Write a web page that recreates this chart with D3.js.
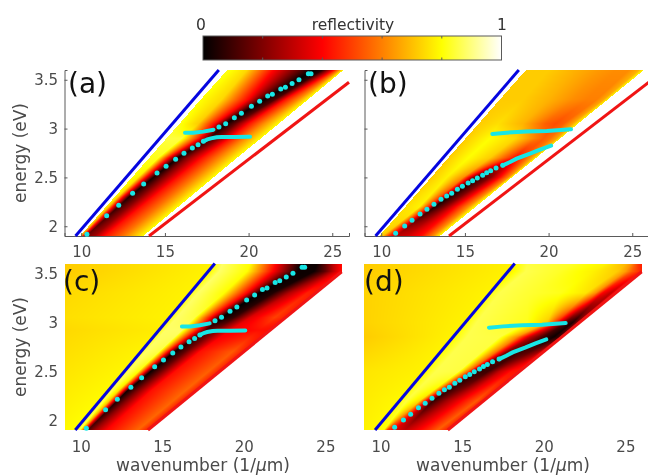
<!DOCTYPE html>
<html>
<head>
<meta charset="utf-8">
<script src="https://cdn.jsdelivr.net/npm/d3@7"></script>
<style>
html, body { margin: 0; padding: 0; background: #fff; overflow: hidden; }
#wrap { position: relative; width: 648px; height: 475px; overflow: hidden; filter: blur(0.4px); }
canvas, svg { position: absolute; left: 0; top: 0; }
text { font-family: "DejaVu Sans", sans-serif; }
</style>
</head>
<body>
<div id="wrap">
<canvas id="heat" width="648" height="475"></canvas>
<svg id="chart" width="648" height="475"></svg>
</div>
<script>
// tick labels
const xTicks = [10, 15, 20, 25]
const yTicks = [2, 2.5, 3, 3.5]
const barTicks = [0.2, 0.4, 0.6, 0.8]

// measured dispersion, left column (a, c)
const dotsLeft = [[10.34,1.917],[11.52,2.108],[12.24,2.214],[13.07,2.337],[13.73,2.433],[14.53,2.545],[15.07,2.614],[15.64,2.685],[16.14,2.747],[16.64,2.801],[16.98,2.835],[17.30,2.870],[18.23,3.016],[18.63,3.05],[19.15,3.112],[19.57,3.156],[20.17,3.228],[20.66,3.279],[21.14,3.334],[21.42,3.351],[21.92,3.405],[22.2,3.423],[22.6,3.463],[23.01,3.501],[23.57,3.562],[23.73,3.562]]
const lowerLeft = [[17.3,2.87],[17.54,2.89],[17.75,2.9],[18.09,2.911],[18.39,2.914],[19.19,2.914],[20.09,2.917]]
const upperLeft = [[16.2,2.958],[16.7,2.958],[17.3,2.969],[17.9,2.989]]

// measured dispersion, right column (b, d)
const dotsRight = [[10.86,1.928],[11.4,2.003],[11.84,2.061],[12.32,2.126],[12.73,2.174],[13.15,2.225],[13.57,2.276],[13.91,2.31],[14.21,2.337],[14.55,2.378],[14.85,2.409],[15.19,2.443],[15.46,2.467],[15.74,2.494],[16.06,2.522],[16.3,2.549],[16.54,2.569],[16.86,2.597],[17.26,2.624]]
const lowerRight = [[17.26,2.624],[17.7,2.658],[18.09,2.692],[18.49,2.719],[18.89,2.743],[19.49,2.784],[20.15,2.825]]
const upperRight = [[16.64,2.945],[17.5,2.958],[18.69,2.969],[19.89,2.975],[21.34,2.992]]

// light lines
const blueLine = [[9.66,1.9],[18.22,3.6]]
const redTop = [[14.05,1.9],[26,3.475]]
const redBottom = [[14.12,1.9],[26,3.516]]

// reflectivity: one row of wavenumbers + one row of values per energy
const energyA = [1.9,2.3,2.7,2.9,3.05,3.3,3.6]
const kA = [
  [9.93,10.02,10.12,10.3,10.8,11.4,12.5,13.7],
  [12.0,12.2,12.5,12.85,13.5,14.3,15.3,16.5],
  [14.06,14.6,15.2,15.76,16.3,17.2,18.2,19.3],
  [15.09,16.0,16.9,17.7,18.3,18.9,19.8,20.74],
  [15.87,17.0,18.0,18.63,19.2,20.0,20.9,21.8],
  [17.15,18.4,20.0,20.95,21.6,22.2,23.0,23.56],
  [18.73,19.9,21.5,23.9,24.4,25.0,25.4,25.66]]
const vA = [
  [.75,.6,.4,.18,.25,.42,.58,.8],
  [.8,.72,.4,.05,.2,.42,.58,.8],
  [.82,.82,.42,.02,.2,.42,.6,.8],
  [.85,.85,.5,.1,.22,.42,.62,.8],
  [.82,.72,.4,.02,.15,.42,.62,.8],
  [.8,.74,.4,.02,.12,.42,.62,.8],
  [.82,.74,.4,0,.05,.35,.6,.8]]

const energyB = [1.9,2.2,2.5,2.7,2.9,3.05,3.3,3.6]
const kB = [
  [9.89,10.1,10.4,10.9,11.5,12.4,13.1,13.5],
  [11.44,12.3,12.85,13.2,13.8,14.5,15.2,15.65],
  [12.98,13.91,14.9,15.74,16.5,17.1,17.6,17.8],
  [14.0,15.2,16.5,18.0,18.4,18.8,19.1,19.25],
  [15.04,16.5,18.0,19.2,19.7,20.1,20.5,20.7],
  [15.82,17.0,18.5,19.8,20.4,20.9,21.4,21.75],
  [17.1,18.5,20.0,21.5,22.3,22.9,23.3,23.55],
  [18.65,20.0,21.5,23.0,24.0,24.8,25.4,25.7]]
const vB = [
  [.75,.7,.5,.3,.32,.42,.62,.8],
  [.75,.78,.45,.05,.2,.42,.62,.8],
  [.72,.78,.62,.05,.2,.42,.62,.8],
  [.72,.8,.72,.42,.5,.6,.7,.8],
  [.72,.8,.74,.6,.55,.58,.66,.78],
  [.72,.75,.68,.55,.52,.55,.65,.78],
  [.72,.72,.68,.62,.6,.6,.66,.78],
  [.72,.72,.68,.64,.62,.62,.68,.8]]

const energyC = [1.9,2.3,2.7,2.92,3.05,3.3,3.52,3.6]
const kC = [
  [9,9.6,9.95,10.1,10.25,10.45,10.9,11.6,13.5,14.12],
  [9,11.5,11.9,12.3,12.6,12.85,13.4,14.3,16.4,17.06],
  [9,13.5,14.0,14.8,15.3,15.75,16.4,17.3,19.3,20.0],
  [9,14.6,15.2,16.2,17.0,17.7,18.3,19.2,20.9,21.62],
  [9,15.3,15.9,17.0,18.0,18.65,19.4,20.4,21.9,22.57],
  [9,16.5,17.2,18.8,20.2,20.95,21.8,22.8,23.9,24.41],
  [9,17.8,18.5,20.2,21.8,23.3,24.3,25.0,25.5,26],
  [9,18.0,18.7,20.4,22.0,23.5,24.5,25.0,25.5,26]]
const vC = [
  [.79,.8,.85,.6,.35,.12,.25,.4,.56,.44],
  [.77,.79,.86,.75,.4,.02,.18,.42,.56,.44],
  [.75,.78,.88,.85,.45,.02,.15,.42,.54,.44],
  [.74,.77,.88,.88,.5,.12,.2,.38,.42,.42],
  [.75,.78,.88,.85,.4,0,.08,.35,.5,.44],
  [.74,.78,.88,.8,.4,0,.05,.28,.45,.44],
  [.72,.78,.88,.8,.4,.02,.02,.15,.3,.42],
  [.72,.78,.88,.8,.4,.02,.02,.15,.3,.42]]

const energyD = [1.9,2.2,2.5,2.85,3.0,3.3,3.52,3.6]
const kD = [
  [9,9.65,10.2,10.4,10.9,11.5,12.0,12.8,13.5,14.12],
  [9,11.1,11.6,12.4,12.93,13.23,14.05,15.07,15.9,16.33],
  [9,12.5,13.4,14.8,15.4,15.9,16.6,17.3,18.0,18.53],
  [9,14.3,15.3,17.3,18.35,19.16,19.98,20.6,20.95,21.1],
  [9,15.0,15.9,19.0,20.2,20.8,21.4,21.8,22.05,22.2],
  [9,16.4,17.3,19.0,21.0,22.6,23.2,23.6,24.1,24.41],
  [9,18.0,18.9,21.0,23.0,24.5,25.0,25.4,25.8,26],
  [9,18.1,19.0,21.8,23.87,25.1,25.4,25.6,25.8,26]]
const vD = [
  [.78,.79,.8,.5,.35,.3,.35,.45,.55,.44],
  [.77,.79,.85,.75,.3,.08,.25,.42,.54,.44],
  [.76,.78,.86,.85,.55,.08,.1,.3,.42,.44],
  [.72,.78,.86,.85,.62,.3,.1,.02,.1,.42],
  [.73,.78,.86,.82,.72,.45,.12,.05,.2,.42],
  [.73,.78,.86,.84,.82,.76,.62,.4,.3,.42],
  [.72,.78,.86,.83,.78,.72,.65,.55,.48,.45],
  [.72,.78,.85,.83,.78,.68,.62,.55,.48,.45]]

const svg = d3.select("#chart")
const ctx = document.getElementById("heat").getContext("2d")

// hot colormap
const color = d3.scaleLinear()
  .domain([0, 0.4, 0.8, 1])
  .range(["#000000", "#ff0000", "#ffff00", "#ffffff"])

const grey = "#5a5a5a"

function reflectivity(k, e, energies, ks, vs) {
  const i = Math.max(0, Math.min(energies.length - 2, d3.bisectRight(energies, e) - 1))
  const t = (e - energies[i]) / (energies[i + 1] - energies[i])
  const n = ks[i].length
  const stop = j => ks[i][j] + (ks[i + 1][j] - ks[i][j]) * t
  if (k < stop(0) || k > stop(n - 1)) return null
  let j = 0
  while (j < n - 2 && k > stop(j + 1)) j++
  const a = stop(j), b = stop(j + 1)
  const u = b > a ? (k - a) / (b - a) : 0
  const v0 = vs[i][j] + (vs[i + 1][j] - vs[i][j]) * t
  const v1 = vs[i][j + 1] + (vs[i + 1][j + 1] - vs[i][j + 1]) * t
  return v0 + (v1 - v0) * u
}

function drawPanel(p) {
  const x = d3.scaleLinear().domain([9, 26]).range([p.left, p.right])
  const y = d3.scaleLinear().domain([1.9, 3.6]).range([p.bottom, p.top])

  // the map itself
  const x0 = Math.round(p.left), x1 = Math.min(648, Math.round(p.right))
  const y0 = Math.round(p.top), y1 = Math.round(p.bottom)
  const img = ctx.createImageData(x1 - x0, y1 - y0)
  for (let py = y0; py < y1; py++) {
    for (let px = x0; px < x1; px++) {
      const v = reflectivity(x.invert(px + 0.5), y.invert(py + 0.5), p.energy, p.k, p.v)
      if (v === null) continue
      const c = d3.rgb(color(v))
      const o = ((py - y0) * (x1 - x0) + (px - x0)) * 4
      img.data[o] = c.r
      img.data[o + 1] = c.g
      img.data[o + 2] = c.b
      img.data[o + 3] = 255
    }
  }
  ctx.putImageData(img, x0, y0)

  const g = svg.append("g")

  const xAxis = d3.axisBottom(x).tickValues(xTicks).tickFormat(d3.format("d"))
    .tickSize(p.frame ? -3 : 0).tickPadding(p.frame ? 10 : 11)
  const yAxis = d3.axisLeft(y).tickValues(yTicks).tickFormat(p.yLabels ? d3.format("") : "")
    .tickSize(p.frame ? -3 : 0).tickPadding(6.5)

  const gx = g.append("g").attr("transform", `translate(0,${p.bottom})`).call(xAxis)
  const gy = g.append("g").attr("transform", `translate(${p.left},0)`).call(yAxis)
  for (const a of [gx, gy]) {
    a.selectAll("path").attr("stroke", p.frame ? grey : "none")
    a.selectAll("line").attr("stroke", p.frame ? grey : "none")
    a.selectAll("text").attr("fill", "#4a4a4a").style("font-size", "15px").style("font-family", "DejaVu Sans")
  }

  const line = d3.line().x(d => x(d[0])).y(d => y(d[1]))

  g.append("path").attr("d", line(blueLine)).attr("fill", "none")
    .attr("stroke", "#0505e0").attr("stroke-width", 3)
  g.append("path").attr("d", line(p.red)).attr("fill", "none")
    .attr("stroke", "#f01414").attr("stroke-width", 3)

  for (const branch of p.dense) {
    g.append("path").attr("d", line(branch)).attr("fill", "none")
      .attr("stroke", "#18e6e6").attr("stroke-width", 4).attr("stroke-linecap", "round")
  }
  g.append("g").selectAll("circle")
    .data(p.dots)
    .join("circle")
    .attr("cx", d => x(d[0]))
    .attr("cy", d => y(d[1]))
    .attr("r", 2.5)
    .attr("fill", "#18e6e6")

  g.append("text").attr("x", p.tagX).attr("y", p.tagY)
    .attr("fill", "#111").style("font-size", "28px").text(p.tag)
}

const panels = [
  { tag: "(a)", tagX: 68, tagY: 93, left: 64.5, right: 349, top: 70, bottom: 236, frame: true, yLabels: true,
    energy: energyA, k: kA, v: vA, red: redTop, dots: dotsLeft, dense: [lowerLeft, upperLeft] },
  { tag: "(b)", tagX: 368, tagY: 93, left: 364.5, right: 649, top: 70, bottom: 236, frame: true, yLabels: false,
    energy: energyB, k: kB, v: vB, red: redTop, dots: dotsRight, dense: [lowerRight, upperRight] },
  { tag: "(c)", tagX: 63, tagY: 291, left: 64.5, right: 341.7, top: 263.5, bottom: 430, frame: false, yLabels: true,
    energy: energyC, k: kC, v: vC, red: redBottom, dots: dotsLeft, dense: [lowerLeft, upperLeft] },
  { tag: "(d)", tagX: 364, tagY: 291, left: 364.3, right: 641.7, top: 263.5, bottom: 430, frame: false, yLabels: false,
    energy: energyD, k: kD, v: vD, red: redBottom, dots: dotsRight, dense: [lowerRight, upperRight] }
]
panels.forEach(drawPanel)

// axis titles
const titleStyle = s => s.attr("fill", "#4a4a4a").style("font-size", "17px").attr("text-anchor", "middle")
svg.append("text").attr("transform", "translate(26,153) rotate(-90)").call(titleStyle).text("energy (eV)")
svg.append("text").attr("transform", "translate(26,347) rotate(-90)").call(titleStyle).text("energy (eV)")
for (const cx of [203, 503]) {
  const t = svg.append("text").attr("x", cx).attr("y", 471).call(titleStyle)
  t.append("tspan").text("wavenumber (1/")
  t.append("tspan").style("font-style", "italic").text("\u03bc")
  t.append("tspan").text("m)")
}

// colour bar
const bar = d3.scaleLinear().domain([0, 1]).range([203, 501.5])
const grad = svg.append("defs").append("linearGradient").attr("id", "hot")
color.domain().forEach(d => {
  grad.append("stop").attr("offset", d).attr("stop-color", color(d))
})
svg.append("rect").attr("x", bar(0)).attr("y", 36).attr("width", bar(1) - bar(0)).attr("height", 24)
  .attr("fill", "url(#hot)").attr("stroke", grey).attr("stroke-width", 1)
svg.append("g").selectAll("path")
  .data(barTicks)
  .join("path")
  .attr("d", d => `M${bar(d)},36v2.5M${bar(d)},60v-2.5`)
  .attr("stroke", grey)
const barLabel = s => s.attr("y", 30).attr("fill", "#333").attr("text-anchor", "middle").style("font-size", "15.5px")
svg.append("text").attr("x", 201).call(barLabel).text("0")
svg.append("text").attr("x", 353).call(barLabel).text("reflectivity")
svg.append("text").attr("x", 502).call(barLabel).text("1")
</script>
</body>
</html>
